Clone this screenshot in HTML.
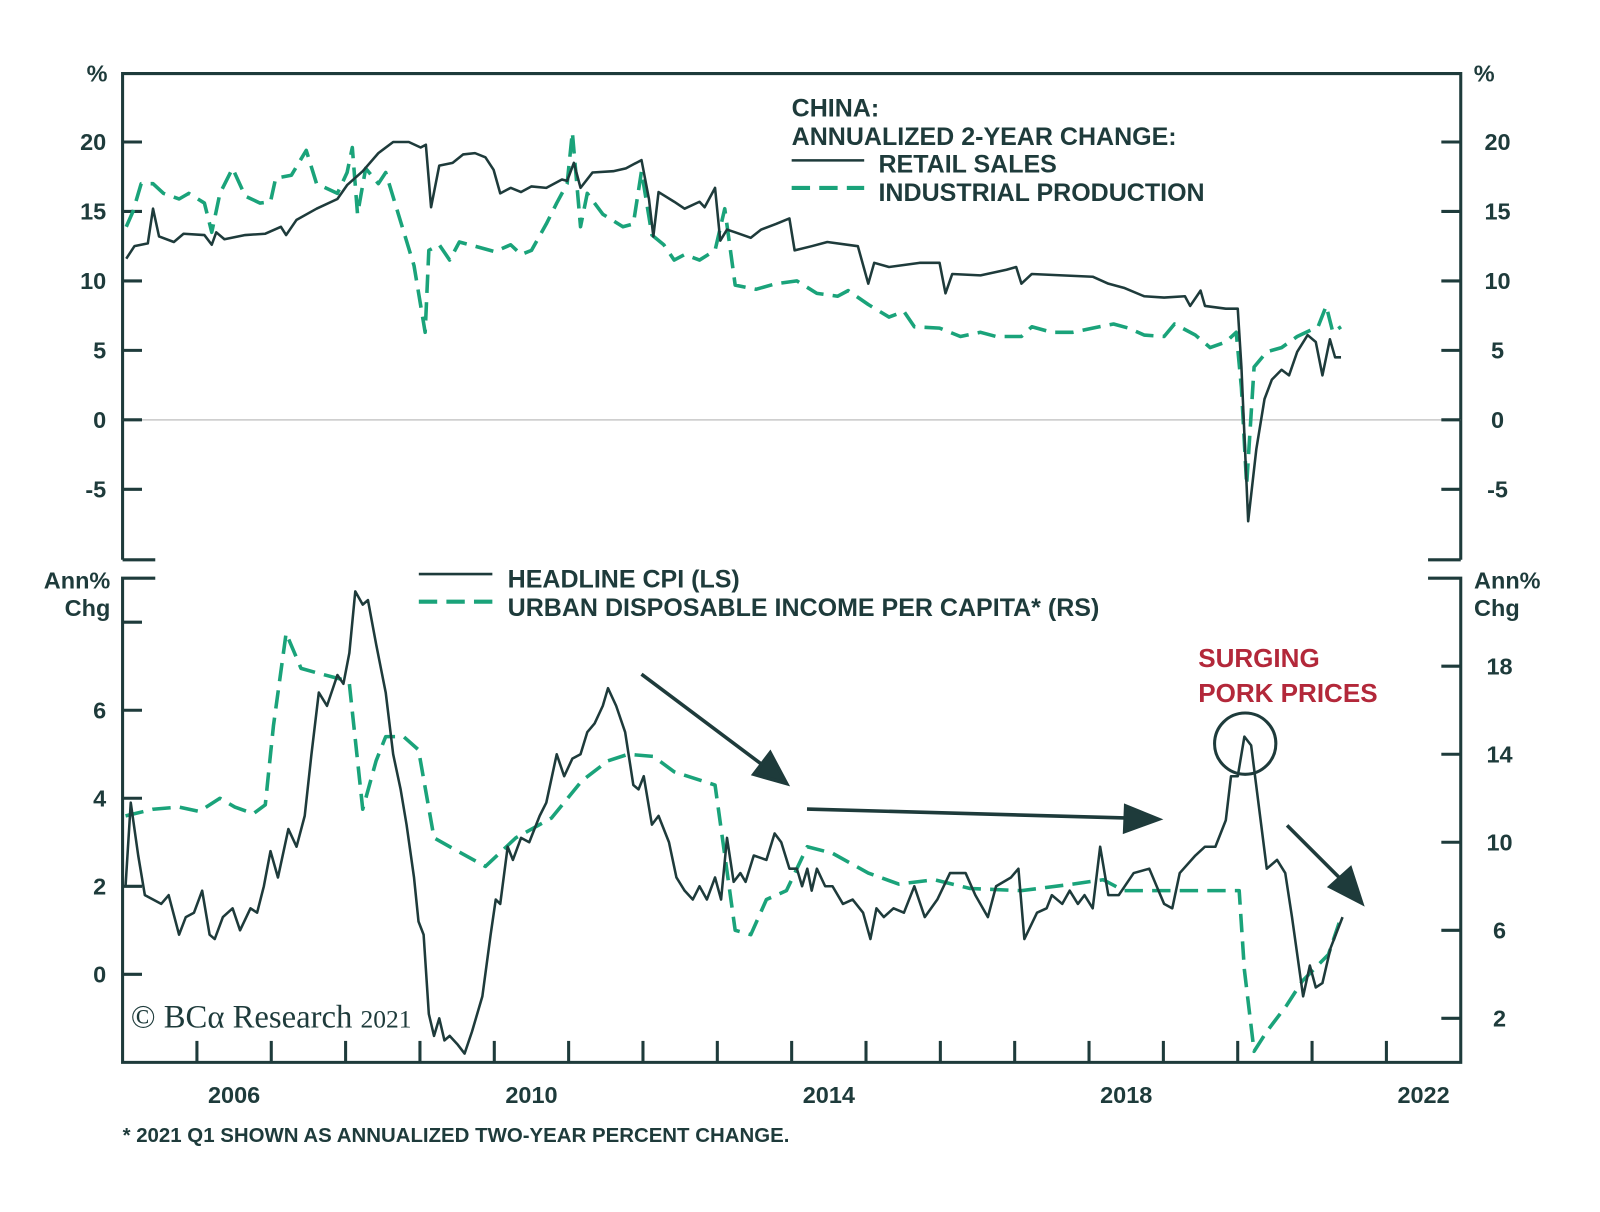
<!DOCTYPE html>
<html><head><meta charset="utf-8"><style>
html,body{margin:0;padding:0;background:#fff;}
svg{display:block;font-family:"Liberation Sans",Arial,sans-serif;}
.lbl{font-size:23px;font-weight:bold;fill:#1e3b3b;}
.leg{font-size:24.5px;font-weight:bold;fill:#1e3b3b;}
</style></head><body>
<svg id="chart" width="1600" height="1212" viewBox="0 0 1600 1212" xmlns="http://www.w3.org/2000/svg">
<g transform="scale(1.0215)">
<g id="frame" stroke="#1e3b3b" stroke-width="3" fill="none">
<path d="M120,548 V72 H1430 V548" />
<path d="M120,548 H152 M1398,548 H1430" />
<path d="M152,566 H120 V1040 H1430 V566 H1398" />
</g>
<line x1="120" x2="1430" y1="411" y2="411" stroke="#c8c8c8" stroke-width="1.5"/>
<g id="axes"></g>
<g id="series"></g>
<g>
<text class="leg" x="775" y="114">CHINA:</text>
<text class="leg" x="775" y="142">ANNUALIZED 2-YEAR CHANGE:</text>
<line x1="775" x2="846" y1="157" y2="157" stroke="#1e3b3b" stroke-width="2.5"/>
<text class="leg" x="860" y="169">RETAIL SALES</text>
<line x1="775" x2="846" y1="184" y2="184" stroke="#1aa37a" stroke-width="4" stroke-dasharray="18,9"/>
<text class="leg" x="860" y="197">INDUSTRIAL PRODUCTION</text>
</g>
<g>
<line x1="410" x2="482" y1="562" y2="562" stroke="#1e3b3b" stroke-width="2.5"/>
<text class="leg" x="497" y="575">HEADLINE CPI (LS)</text>
<line x1="410" x2="482" y1="589" y2="589" stroke="#1aa37a" stroke-width="4" stroke-dasharray="18,9"/>
<text class="leg" x="497" y="603">URBAN DISPOSABLE INCOME PER CAPITA* (RS)</text>
</g>
<g stroke="#1e3b3b" stroke-width="3.5" fill="#1e3b3b">
<line x1="628" y1="660" x2="752" y2="753"/>
<polygon points="770,767 738,758 754,737"/>
<line x1="790" y1="792" x2="1110" y2="801"/>
<polygon points="1134,802 1102,789 1101,814"/>
<line x1="1260" y1="808" x2="1318" y2="866"/>
<polygon points="1333,884 1302,868 1322,850"/>
<circle cx="1219" cy="728" r="30" fill="none" stroke-width="3"/>
</g>
<text x="1173" y="653" font-size="25.5" font-weight="bold" fill="#b3283a">SURGING</text>
<text x="1173" y="687" font-size="25.5" font-weight="bold" fill="#b3283a">PORK PRICES</text>
<text x="128" y="1006" font-size="32" fill="#1e3b3b" style="font-family:'Liberation Serif',serif">© BCα Research <tspan font-size="25">2021</tspan></text>
<text x="120" y="1118" font-size="20" font-weight="bold" fill="#1e3b3b">* 2021 Q1 SHOWN AS ANNUALIZED TWO-YEAR PERCENT CHANGE.</text>
</g>
</svg>
<script>
const NS="http://www.w3.org/2000/svg";
const xTickYears=[2006,2007,2008,2009,2010,2011,2012,2013,2014,2015,2016,2017,2018,2019,2020,2021,2022];
const xLabels=["2006","2010","2014","2018","2022"];
const topTicks=[20,15,10,5,0,-5];
const cpiTicks=[8,6,4,2,0];
const cpiTickLabels=["","6","4","2","0"];
const incTicks=[18,14,10,6,2];

// Retail sales (top, solid)
const retailDates=[2005.05,2005.16,2005.34,2005.41,2005.49,2005.69,2005.82,2006.10,2006.20,2006.26,2006.37,2006.65,2006.92,2007.13,2007.20,2007.34,2007.61,2007.89,2008.02,2008.23,2008.44,2008.64,2008.85,2009.01,2009.08,2009.15,2009.26,2009.44,2009.58,2009.74,2009.88,2009.99,2010.08,2010.22,2010.36,2010.50,2010.70,2010.91,2010.98,2011.07,2011.16,2011.32,2011.60,2011.77,2011.98,2012.08,2012.14,2012.21,2012.42,2012.56,2012.76,2012.83,2012.97,2013.04,2013.13,2013.24,2013.45,2013.59,2013.79,2013.97,2014.04,2014.27,2014.48,2014.89,2015.03,2015.11,2015.31,2015.72,2015.99,2016.07,2016.16,2016.54,2016.89,2017.02,2017.09,2017.23,2017.64,2018.05,2018.26,2018.47,2018.74,2019.01,2019.29,2019.36,2019.50,2019.56,2019.84,2020.00,2020.05,2020.14,2020.25,2020.36,2020.46,2020.59,2020.69,2020.80,2020.94,2021.05,2021.14,2021.24,2021.31,2021.39];
const retailValues=[11.6,12.5,12.7,15.2,13.2,12.8,13.4,13.3,12.6,13.5,13.0,13.3,13.4,13.9,13.3,14.4,15.2,15.9,16.9,17.9,19.2,20.0,20.0,19.6,19.8,15.3,18.3,18.5,19.1,19.2,18.9,18.0,16.3,16.7,16.4,16.8,16.7,17.3,17.2,18.5,16.7,17.8,17.9,18.1,18.7,15.9,13.2,16.4,15.7,15.2,15.7,15.3,16.7,12.9,13.7,13.5,13.1,13.7,14.1,14.5,12.2,12.5,12.8,12.5,9.8,11.3,11.0,11.3,11.3,9.1,10.5,10.4,10.8,11.0,9.8,10.5,10.4,10.3,9.8,9.5,8.9,8.8,8.9,8.2,9.3,8.2,8.0,8.0,3.8,-7.3,-2.1,1.5,2.9,3.6,3.2,4.9,6.1,5.6,3.2,5.8,4.5,4.5];
// Industrial production (top, dashed)
const ipDates=[2005.05,2005.14,2005.25,2005.41,2005.55,2005.76,2005.89,2006.10,2006.20,2006.31,2006.48,2006.65,2006.85,2006.99,2007.06,2007.27,2007.47,2007.61,2007.89,2008.02,2008.09,2008.16,2008.27,2008.44,2008.54,2008.71,2008.92,2009.07,2009.12,2009.26,2009.40,2009.53,2009.81,2010.01,2010.22,2010.36,2010.50,2010.70,2010.84,2010.98,2011.05,2011.16,2011.25,2011.46,2011.73,2011.87,2011.98,2012.12,2012.28,2012.42,2012.56,2012.76,2012.97,2013.10,2013.24,2013.52,2013.79,2014.07,2014.34,2014.62,2014.76,2015.03,2015.31,2015.51,2015.65,2015.99,2016.27,2016.54,2016.75,2017.09,2017.23,2017.50,2017.78,2018.05,2018.33,2018.53,2018.74,2019.01,2019.15,2019.43,2019.63,2019.84,2019.98,2020.05,2020.12,2020.22,2020.39,2020.59,2020.80,2021.08,2021.19,2021.28,2021.39];
const ipValues=[13.9,15.0,17.0,17.0,16.3,15.9,16.3,15.6,13.5,16.3,18.1,16.1,15.6,15.7,17.4,17.6,19.4,17.0,16.3,17.8,19.6,14.8,18.1,17.0,17.8,14.8,11.1,6.3,12.2,12.6,11.5,12.8,12.4,12.1,12.6,11.9,12.2,14.1,15.6,17.0,20.7,13.9,16.3,14.8,13.9,14.1,17.9,13.3,12.6,11.5,11.9,11.5,12.2,15.2,9.7,9.4,9.8,10.0,9.1,8.9,9.3,8.3,7.4,7.8,6.7,6.6,6.0,6.3,6.0,6.0,6.7,6.3,6.3,6.6,6.9,6.6,6.1,6.0,6.9,6.1,5.2,5.6,6.3,2.3,-4.7,3.8,4.9,5.2,6.0,6.7,8.2,6.3,6.7];
// Headline CPI (bottom, left axis)
const cpiDates=[2005.04,2005.11,2005.21,2005.30,2005.41,2005.52,2005.62,2005.76,2005.85,2005.96,2006.07,2006.17,2006.24,2006.35,2006.48,2006.58,2006.72,2006.81,2006.90,2006.99,2007.09,2007.23,2007.34,2007.45,2007.54,2007.64,2007.75,2007.89,2007.97,2008.05,2008.13,2008.23,2008.30,2008.41,2008.54,2008.64,2008.74,2008.82,2008.92,2008.98,2009.05,2009.12,2009.19,2009.26,2009.33,2009.40,2009.51,2009.60,2009.70,2009.84,2009.95,2010.02,2010.08,2010.18,2010.25,2010.36,2010.47,2010.61,2010.70,2010.84,2010.94,2011.05,2011.16,2011.25,2011.35,2011.46,2011.53,2011.64,2011.76,2011.87,2011.94,2012.01,2012.12,2012.21,2012.35,2012.45,2012.56,2012.67,2012.76,2012.86,2012.97,2013.05,2013.13,2013.22,2013.31,2013.38,2013.49,2013.66,2013.77,2013.86,2013.97,2014.07,2014.14,2014.21,2014.27,2014.34,2014.45,2014.55,2014.69,2014.82,2014.96,2015.06,2015.14,2015.24,2015.37,2015.51,2015.65,2015.79,2015.96,2016.13,2016.34,2016.47,2016.64,2016.75,2016.95,2017.05,2017.13,2017.30,2017.43,2017.50,2017.64,2017.74,2017.85,2017.94,2018.05,2018.15,2018.26,2018.40,2018.60,2018.81,2019.01,2019.12,2019.22,2019.43,2019.56,2019.70,2019.84,2019.91,2020.00,2020.09,2020.18,2020.39,2020.53,2020.64,2020.73,2020.88,2020.97,2021.05,2021.14,2021.25,2021.41];
const cpiValues=[2.0,3.9,2.7,1.8,1.7,1.6,1.8,0.9,1.3,1.4,1.9,0.9,0.8,1.3,1.5,1.0,1.5,1.4,2.0,2.8,2.2,3.3,2.9,3.6,5.0,6.4,6.1,6.8,6.6,7.3,8.7,8.4,8.5,7.5,6.4,5.0,4.2,3.4,2.2,1.2,0.9,-0.9,-1.4,-1.0,-1.5,-1.4,-1.6,-1.8,-1.3,-0.5,0.9,1.7,1.6,2.9,2.6,3.1,3.0,3.6,3.9,5.0,4.5,4.9,5.0,5.5,5.7,6.1,6.5,6.1,5.5,4.3,4.2,4.5,3.4,3.6,3.0,2.2,1.9,1.7,2.0,1.7,2.2,1.7,3.1,2.1,2.3,2.1,2.7,2.6,3.2,3.0,2.4,2.4,2.0,2.4,1.9,2.4,2.0,2.0,1.6,1.7,1.4,0.8,1.5,1.3,1.5,1.4,2.0,1.3,1.7,2.3,2.3,1.8,1.3,2.0,2.2,2.4,0.8,1.4,1.5,1.8,1.6,1.9,1.6,1.8,1.5,2.9,1.8,1.8,2.3,2.4,1.6,1.5,2.3,2.7,2.9,2.9,3.5,4.5,4.5,5.4,5.2,2.4,2.6,2.3,1.3,-0.5,0.2,-0.3,-0.2,0.6,1.3];
// Urban disposable income per capita (bottom, right axis)
const incDates=[2005.04,2005.41,2005.76,2006.03,2006.31,2006.51,2006.76,2006.92,2007.03,2007.20,2007.40,2007.61,2007.95,2008.05,2008.23,2008.41,2008.54,2008.78,2008.98,2009.19,2009.40,2009.88,2010.29,2010.77,2011.18,2011.53,2011.80,2012.14,2012.42,2012.97,2013.24,2013.45,2013.66,2013.93,2014.21,2014.55,2015.03,2015.44,2015.92,2016.40,2017.09,2017.78,2018.19,2018.47,2019.15,2020.02,2020.09,2020.22,2020.39,2020.66,2020.87,2021.22,2021.38];
const incValues=[11.2,11.5,11.6,11.4,12.0,11.6,11.3,11.7,15.3,19.5,17.9,17.7,17.4,17.2,11.5,13.7,14.8,14.8,14.2,10.2,9.8,8.9,10.2,11.1,12.8,13.7,14.0,13.9,13.2,12.6,6.0,5.8,7.4,7.8,9.8,9.5,8.6,8.1,8.3,7.9,7.8,8.1,8.3,7.8,7.8,7.8,4.2,0.5,1.4,2.6,3.7,4.9,6.5];

const X0=120,X1=1430,Y0=2005,Y1=2023;
const x=y=>X0+(y-Y0)/(Y1-Y0)*(X1-X0);
const yTop=v=>411-v*(476/35);
const yCpi=v=>1040-(v+2)*(474/11);
const yInc=v=>1040-v*(474/22);

const axes=document.getElementById('axes');
const series=document.getElementById('series');
function mk(tag,attrs,parent){const e=document.createElementNS(NS,tag);for(const k in attrs)e.setAttribute(k,attrs[k]);parent.appendChild(e);return e;}
const dark="#1e3b3b";
xTickYears.forEach(yr=>{
  const t=mk('line',{x1:x(yr),x2:x(yr),y1:1040,y2:1019,stroke:dark,'stroke-width':3},axes);
  
  
});
xLabels.forEach(l=>{
  const t=mk('text',{x:x(+l+0.5),y:1080,'text-anchor':'middle',class:'lbl'},axes);t.textContent=l;
  
  
});
topTicks.forEach(v=>{
  const yy=yTop(v);
  const a=mk('line',{x1:120,x2:139,y1:yy,y2:yy,stroke:dark,'stroke-width':3},axes);
  
  
  const b=mk('line',{x1:1411,x2:1430,y1:yy,y2:yy,stroke:dark,'stroke-width':3},axes);
  
  
  const l=mk('text',{x:104,y:yy+8,'text-anchor':'end',class:'lbl'},axes);l.textContent=String(v);
  
  
  const r=mk('text',{x:1466,y:yy+8,'text-anchor':'middle',class:'lbl'},axes);r.textContent=String(v);
  
  
});
[["%",95],["%",1453]].forEach(p=>{
  const t=mk('text',{x:p[1],y:80,'text-anchor':'middle',class:'lbl'},axes);t.textContent=p[0];
  
  
});
cpiTicks.forEach((v,i)=>{
  const yy=yCpi(v);
  const a=mk('line',{x1:120,x2:139,y1:yy,y2:yy,stroke:dark,'stroke-width':3},axes);
  
  
  const l=mk('text',{x:104,y:yy+8,'text-anchor':'end',class:'lbl'},axes);l.textContent=cpiTickLabels[i];
  
  
});
incTicks.forEach(v=>{
  const yy=yInc(v);
  const a=mk('line',{x1:1411,x2:1430,y1:yy,y2:yy,stroke:dark,'stroke-width':3},axes);
  
  
  const l=mk('text',{x:1468,y:yy+8,'text-anchor':'middle',class:'lbl'},axes);l.textContent=String(v);
  
  
});
[["Ann%",108,576,'end'],["Chg",108,603,'end'],["Ann%",1443,576,'start'],["Chg",1443,603,'start']].forEach(p=>{
  const t=mk('text',{x:p[1],y:p[2],'text-anchor':p[3],class:'lbl'},axes);t.textContent=p[0];
  
  
});
function line(dates,vals,yf,color,w,dash,name){
  const n=Math.min(dates.length,vals.length);
  let d='';for(let i=0;i<n;i++){d+=(i?'L':'M')+x(dates[i]).toFixed(1)+','+yf(vals[i]).toFixed(1);}
  const p=mk('path',{d:d,fill:'none',stroke:color,'stroke-width':w,'stroke-linejoin':'round'},series);
  if(dash)p.setAttribute('stroke-dasharray',dash);
  
  
}
line(ipDates,ipValues,yTop,"#1aa37a",3.5,"18,9","industrial-production-line");
line(retailDates,retailValues,yTop,dark,2.5,null,"retail-sales-line");
line(incDates,incValues,yInc,"#1aa37a",3.5,"18,9","urban-income-line");
line(cpiDates,cpiValues,yCpi,dark,2.5,null,"headline-cpi-line");
</script>
</body></html>
